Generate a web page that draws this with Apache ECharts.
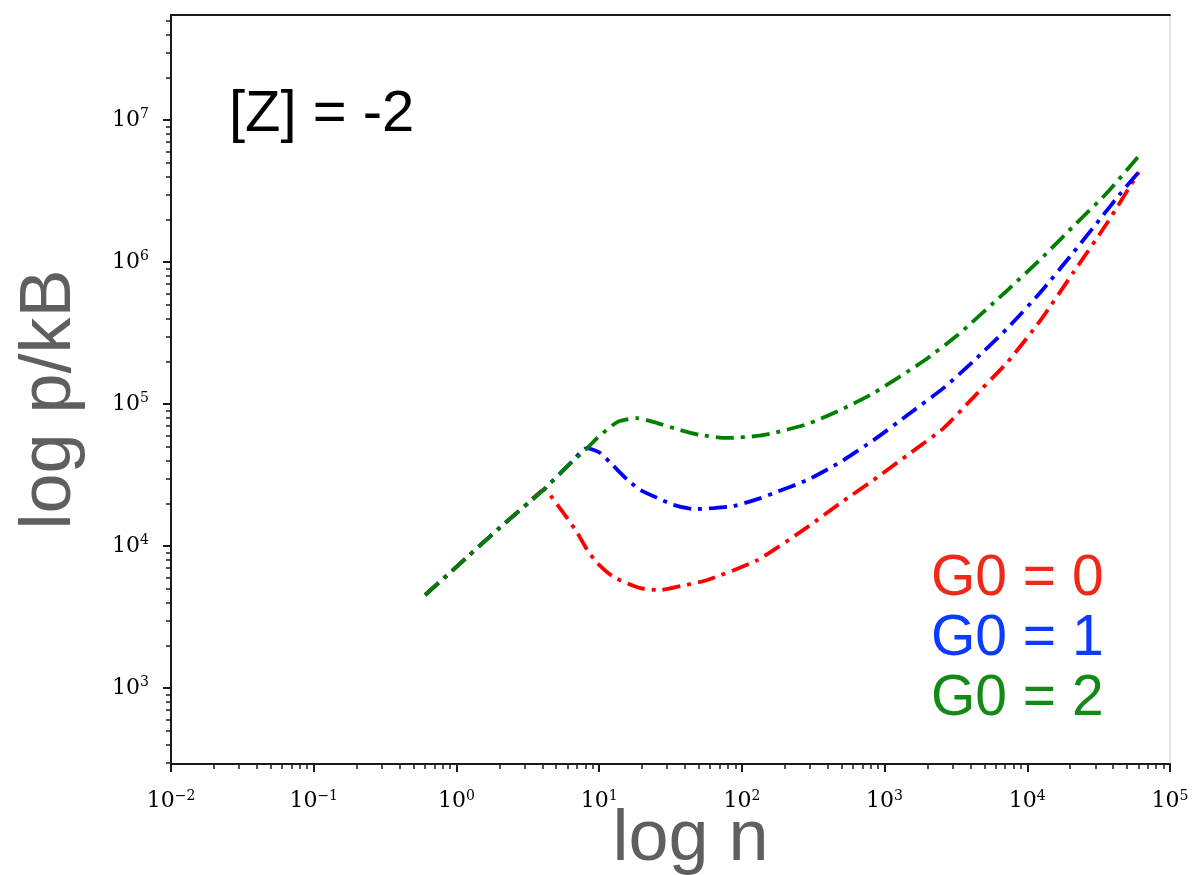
<!DOCTYPE html>
<html><head><meta charset="utf-8">
<script src="https://cdn.jsdelivr.net/npm/echarts@6/dist/echarts.min.js"></script>
<style>html,body{margin:0;padding:0;background:#fff}#c{width:1198px;height:875px}</style>
</head><body><div id="c"></div>
<script>
// ---- data ----
const xTickExps = [-2, -1, 0, 1, 2, 3, 4, 5];      // log10 n tick labels
const yTickExps = [3, 4, 5, 6, 7];                  // log10 p/kB tick labels
const minorMultipliers = [2, 3, 4, 5, 6, 7, 8, 9];
const xRangeExp = [-2, 5];
const yRangeExp = [2.465, 7.74];
const seriesNames = ['G0 = 0', 'G0 = 1', 'G0 = 2'];
const annotation = '[Z] = -2';

const redN = [0.604, 1.0, 2.0, 3.0, 4.20, 4.70, 5.98, 7.03, 8.26, 9.70, 12.6, 19.5, 26.9, 37.1, 57.4, 128.5, 288, 491, 837, 1449, 2594, 4207, 7278, 12420, 21130, 36640, 60400];
const redP = [4520, 7140, 13400, 19100, 25200, 21800, 15700, 12400, 9380, 7590, 6050, 5060, 4900, 5220, 5770, 7960, 13600, 20100, 29200, 43750, 67760, 112000, 197700, 390800, 851000, 1914000, 4300000];

const blueN = [0.604, 1.0, 2.0, 4.0, 6.0, 8.26, 10.2, 12.0, 15.8, 19.5, 25.6, 33.1, 45.8, 63.2, 87.3, 128.5, 167, 288, 491, 837, 1449, 2594, 4207, 7278, 12420, 21130, 32730, 45190, 60400];
const blueP = [4520, 7140, 13400, 24500, 36500, 49000, 45200, 38500, 29200, 24800, 21800, 19500, 18200, 18500, 19100, 21400, 23600, 29200, 39100, 55700, 83700, 130000, 200900, 342800, 615000, 1175000, 2040000, 3060000, 4300000];

const greenN = [0.604, 1.0, 2.0, 4.0, 6.0, 8.26, 9.70, 13.4, 18.5, 25.6, 37.1, 51.3, 79.3, 128.5, 167, 288, 491, 837, 1875, 3251, 7278, 12420, 21130, 36640, 59430];
const greenP = [4520, 7140, 13400, 24500, 36500, 49000, 57700, 74600, 79600, 73400, 65600, 60500, 57700, 59600, 62500, 72300, 90800, 119400, 200900, 306200, 635300, 1050000, 1795000, 3112000, 5480000];

// ---- styles ----
const lineColors = ['#ff0000', '#0000ff', '#008000'];
const textColors = ['#f02818', '#0b3bff', '#128a16'];

function minorExps(lo, hi) {
  const out = [];
  for (let e = Math.floor(lo); e < hi; e++) {
    minorMultipliers.forEach(k => { const v = e + Math.log10(k); if (v >= lo && v <= hi) out.push(v); });
  }
  return out;
}
const toPairs = (ns, ps) => ns.map((n, i) => [Math.log10(n), Math.log10(ps[i])]);
const fmtExp = v => '{a|10}{b|' + (v < 0 ? '\u2212' + (-v) : v) + '}';
const richLab = {
  a: { fontSize: 22, fontFamily: 'DejaVu Serif', color: '#000', lineHeight: 25 },
  b: { fontSize: 14, fontFamily: 'DejaVu Serif', color: '#000', lineHeight: 14, verticalAlign: 'top' }
};
const axisCol = '#1a1a1a';

const chart = echarts.init(document.getElementById('c'), null, { renderer: 'canvas' });
const seriesData = [toPairs(redN, redP), toPairs(blueN, blueP), toPairs(greenN, greenP)];

chart.setOption({
  animation: false,
  backgroundColor: '#fff',
  title: {
    text: annotation, left: 229, top: 86, padding: 0,
    textStyle: { fontSize: 58, fontWeight: 'normal', color: '#000', fontFamily: 'Liberation Sans' }
  },
  legend: {
    orient: 'vertical', left: 921, top: 546, icon: 'none', itemWidth: 0, itemGap: 3,
    selectedMode: false,
    textStyle: { fontSize: 57, fontFamily: 'Liberation Sans' },
    data: seriesNames.map((n, i) => ({ name: n, textStyle: { color: textColors[i] } }))
  },
  grid: { left: 171, right: 28, top: 15, bottom: 111, containLabel: false, outerBoundsMode: 'none' },
  xAxis: [
    {
      type: 'value', min: xRangeExp[0], max: xRangeExp[1], position: 'bottom',
      name: 'log n', nameLocation: 'middle', nameGap: 40, nameMoveOverlap: false,
      nameTextStyle: { fontSize: 72, color: '#5f5f5f', fontFamily: 'Liberation Sans', padding: [0, 0, 0, 40] },
      axisLine: { show: true, onZero: false, lineStyle: { color: axisCol, width: 2 } },
      axisTick: { show: true, inside: false, length: 8, lineStyle: { color: axisCol, width: 2 }, customValues: xTickExps },
      axisLabel: { show: true, margin: 25, customValues: xTickExps, formatter: fmtExp, rich: richLab },
      splitLine: { show: false }
    },
    {
      type: 'value', min: xRangeExp[0], max: xRangeExp[1], position: 'bottom',
      axisLine: { show: false, onZero: false },
      axisTick: { show: true, inside: false, length: 5, lineStyle: { color: axisCol, width: 1.5 }, customValues: minorExps(xRangeExp[0], xRangeExp[1]) },
      axisLabel: { show: false }, splitLine: { show: false }
    },
    {
      type: 'value', min: xRangeExp[0], max: xRangeExp[1], position: 'top',
      axisLine: { show: true, onZero: false, lineStyle: { color: axisCol, width: 2 } },
      axisTick: { show: false }, axisLabel: { show: false }, splitLine: { show: false }
    }
  ],
  yAxis: [
    {
      type: 'value', min: yRangeExp[0], max: yRangeExp[1], position: 'left',
      name: 'log p/kB', nameLocation: 'middle', nameGap: 85, nameRotate: 90, nameMoveOverlap: false,
      nameTextStyle: { fontSize: 72, color: '#5f5f5f', fontFamily: 'Liberation Sans', padding: [0, 20, 0, 0] },
      axisLine: { show: true, onZero: false, lineStyle: { color: axisCol, width: 2 } },
      axisTick: { show: true, inside: false, length: 8, lineStyle: { color: axisCol, width: 2 }, customValues: yTickExps },
      axisLabel: { show: true, margin: 22, customValues: yTickExps, formatter: fmtExp, rich: richLab },
      splitLine: { show: false }
    },
    {
      type: 'value', min: yRangeExp[0], max: yRangeExp[1], position: 'left',
      axisLine: { show: false, onZero: false },
      axisTick: { show: true, inside: false, length: 5, lineStyle: { color: axisCol, width: 1.5 }, customValues: minorExps(yRangeExp[0], yRangeExp[1]) },
      axisLabel: { show: false }, splitLine: { show: false }
    },
    {
      type: 'value', min: yRangeExp[0], max: yRangeExp[1], position: 'right',
      axisLine: { show: true, onZero: false, lineStyle: { color: '#e4e4e4', width: 2 } },
      axisTick: { show: false }, axisLabel: { show: false }, splitLine: { show: false }
    }
  ],
  series: seriesNames.map((name, i) => ({
    name, type: 'line', xAxisIndex: 0, yAxisIndex: 0,
    data: seriesData[i], showSymbol: false, symbol: 'none', smooth: 0.2,
    lineStyle: { color: lineColors[i], width: 3.8, type: [18, 7, 4, 7] },
    itemStyle: { color: lineColors[i] }, z: 2 + i
  }))
});
</script></body></html>
